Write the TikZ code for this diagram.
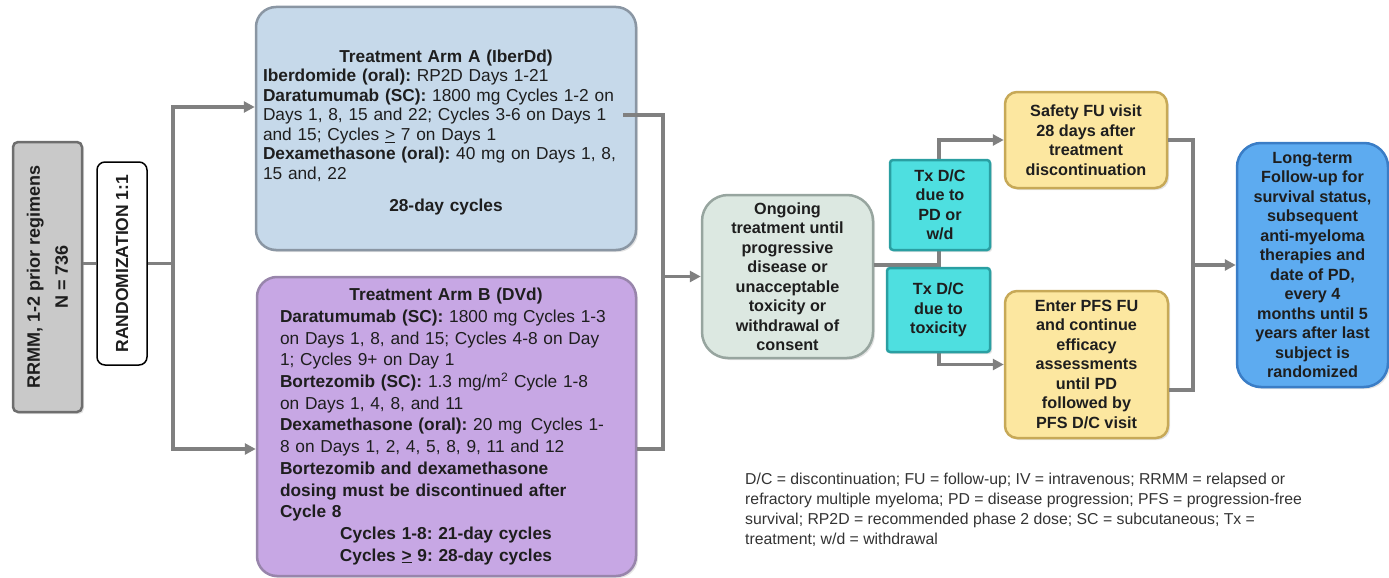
\documentclass[tikz,border=0pt]{standalone}
\usepackage{fontspec}
\setmainfont{Liberation Sans}
\frenchspacing
\usetikzlibrary{arrows.meta,shadows}
\definecolor{conncol}{HTML}{808080}
\definecolor{txtcol}{HTML}{1E1E1E}
\definecolor{grayfill}{HTML}{C9C9C9}
\definecolor{grayedge}{HTML}{6E6E6E}
\definecolor{afill}{HTML}{C6D9EA}
\definecolor{aedge}{HTML}{8A96A3}
\definecolor{bfill}{HTML}{C7A7E4}
\definecolor{bedge}{HTML}{9885AB}
\definecolor{ofill}{HTML}{DCE8E1}
\definecolor{oedge}{HTML}{97A59F}
\definecolor{tfill}{HTML}{4EDFE0}
\definecolor{tedge}{HTML}{2A9FA2}
\definecolor{yfill}{HTML}{FCE7A0}
\definecolor{yedge}{HTML}{C7A957}
\definecolor{lfill}{HTML}{5DABF0}
\definecolor{ledge}{HTML}{3A7DC6}
\definecolor{notecol}{HTML}{333333}
\begin{document}
\begin{tikzpicture}[x=1pt,y=-1pt,
  conn/.style={draw=conncol, line width=3.2pt},
  arr/.style={conn, -{Triangle[length=11pt,width=11pt]}},
  shad/.style={drop shadow={opacity=0.22, shadow xshift=2pt, shadow yshift=-2pt}},
  basebox/.style={inner sep=0pt, line width=2.5pt, text=txtcol, shad},
  armbox/.style={basebox, rounded corners=20pt, align=left, font=\fontsize{17.3}{19.5}\selectfont\frenchspacing},
  smallbox/.style={basebox, align=center, font=\fontsize{16.2}{19.5}\selectfont\bfseries},
]
\useasboundingbox (0,0) rectangle (1389,578);

% left boxes
\node[basebox, rotate=90, rounded corners=5pt, fill=grayfill, draw=grayedge,
  minimum width=270pt, minimum height=69pt, align=center,
  font=\fontsize{18}{28}\selectfont\bfseries] (rrmm) at (47.5,277)
  {RRMM, 1-2 prior regimens\\N = 736};
\node[inner sep=0pt, rotate=90, rounded corners=8pt, fill=white, draw=black, line width=1.5pt,
  minimum width=203pt, minimum height=50pt,
  font=\fontsize{17.5}{20}\selectfont\bfseries, text=txtcol] (rand) at (122,263.5)
  {RANDOMIZATION 1:1};

% arms
\node[armbox, fill=afill, draw=aedge, minimum width=380pt, minimum height=243pt,
  text width=366pt] (armA) at (446,128.5)
  {\rule{0pt}{21pt}\makebox[366pt][c]{\bfseries Treatment Arm A (IberDd)}\\
   \textbf{Iberdomide (oral):} RP2D Days 1-21\\
   \textbf{Daratumumab (SC):} 1800 mg Cycles 1-2 on\\
   Days 1, 8, 15 and 22; Cycles 3-6 on Days 1\\
   and 15; Cycles \underline{>} 7 on Days 1\\
   \textbf{Dexamethasone (oral):} 40 mg on Days 1, 8,\\
   15 and, 22\\[13pt]
   \makebox[366pt][c]{\bfseries 28-day cycles}};

\node[armbox, fill=bfill, draw=bedge, minimum width=379pt, minimum height=299pt,
  text width=333pt, font=\fontsize{17.3}{21.7}\selectfont\frenchspacing] (armB) at (446.5,426.5)
  {\makebox[332pt][c]{\bfseries Treatment Arm B (DVd)}\\
   \textbf{Daratumumab (SC):} 1800 mg Cycles 1-3\\
   on Days 1, 8, and 15; Cycles 4-8 on Day\\
   1; Cycles 9+ on Day 1\\
   \textbf{Bortezomib (SC):} 1.3 mg/m\textsuperscript{2} Cycle 1-8\\
   on Days 1, 4, 8, and 11\\
   \textbf{Dexamethasone (oral):} 20 mg\, Cycles 1-\\
   8 on Days 1, 2, 4, 5, 8, 9, 11 and 12\\
   \textbf{Bortezomib and dexamethasone}\\
   \textbf{dosing must be discontinued after}\\
   \textbf{Cycle 8}\\
   \makebox[332pt][c]{\bfseries Cycles 1-8: 21-day cycles}\\
   \makebox[332pt][c]{\bfseries Cycles \underline{>} 9: 28-day cycles}};

% middle and right boxes
\node[smallbox, rounded corners=26pt, fill=ofill, draw=oedge,
  minimum width=171pt, minimum height=163pt] (ongoing) at (787.5,276.5)
  {Ongoing\\treatment until\\progressive\\disease or\\unacceptable\\toxicity or\\withdrawal of\\consent};
\node[smallbox, rounded corners=12pt, fill=yfill, draw=yedge,
  minimum width=162pt, minimum height=96pt] (safety) at (1086,140)
  {Safety FU visit\\28 days after\\treatment\\discontinuation};
\node[smallbox, rounded corners=12pt, fill=yfill, draw=yedge,
  minimum width=163pt, minimum height=147pt] (pfs) at (1086.5,364.5)
  {Enter PFS FU\\and continue\\efficacy\\assessments\\until PD\\followed by\\PFS D/C visit};
\node[smallbox, rounded corners=24pt, fill=lfill, draw=ledge,
  minimum width=151pt, minimum height=244pt] (longterm) at (1312.5,265)
  {Long-term\\Follow-up for\\survival status,\\subsequent\\anti-myeloma\\therapies and\\date of PD,\\every 4\\months until 5\\years after last\\subject is\\randomized};

% connector coordinates
\coordinate (sA) at (173,107);
\coordinate (sB) at (173,449);
\coordinate (mA) at (663,115);
\coordinate (mB) at (663,449);
\coordinate (t) at (939,265);
\coordinate (r) at (1193,265);

% connectors
\draw[conn] (rrmm.south |- rand.center) -- (rand.north);
\draw[arr] (rand.south) -| (sA) -- (armA.west |- sA);
\draw[arr] (rand.south) -| (sB) -- (armB.west |- sB);
\draw[conn] ([xshift=-14pt]armA.east |- mA) -- (mA) -- (mB) -- (armB.east |- mB);
\draw[arr] (mA |- ongoing.west) -- (ongoing.west);
\draw[conn] (ongoing.east |- t) -- (t);
\draw[arr] (t) |- (safety.west);
\draw[arr] (t) |- (pfs.west);
\draw[conn] (safety.east) -| (r);
\draw[conn] (pfs.east |- 0,390) -| (r);
\draw[arr] (r) -- (longterm.west);

% Tx boxes on top of the vertical line
\node[smallbox, rounded corners=3pt, fill=tfill, draw=tedge,
  minimum width=100pt, minimum height=90pt] (tx1) at (940,205)
  {Tx D/C\\due to\\PD or\\w/d};
\node[smallbox, rounded corners=3pt, fill=tfill, draw=tedge,
  minimum width=103pt, minimum height=84pt] (tx2) at (938.5,310)
  {Tx D/C\\due to\\toxicity};

% footnote
\node[anchor=north west, inner sep=0pt, align=left, text=notecol,
  font=\fontsize{15.8}{20}\selectfont\frenchspacing] (note) at (745,473)
  {D/C = discontinuation; FU = follow-up; IV = intravenous; RRMM = relapsed or\\
   refractory multiple myeloma; PD = disease progression; PFS = progression-free\\
   survival; RP2D = recommended phase 2 dose; SC = subcutaneous; Tx =\\
   treatment; w/d = withdrawal};
\end{tikzpicture}
\end{document}
